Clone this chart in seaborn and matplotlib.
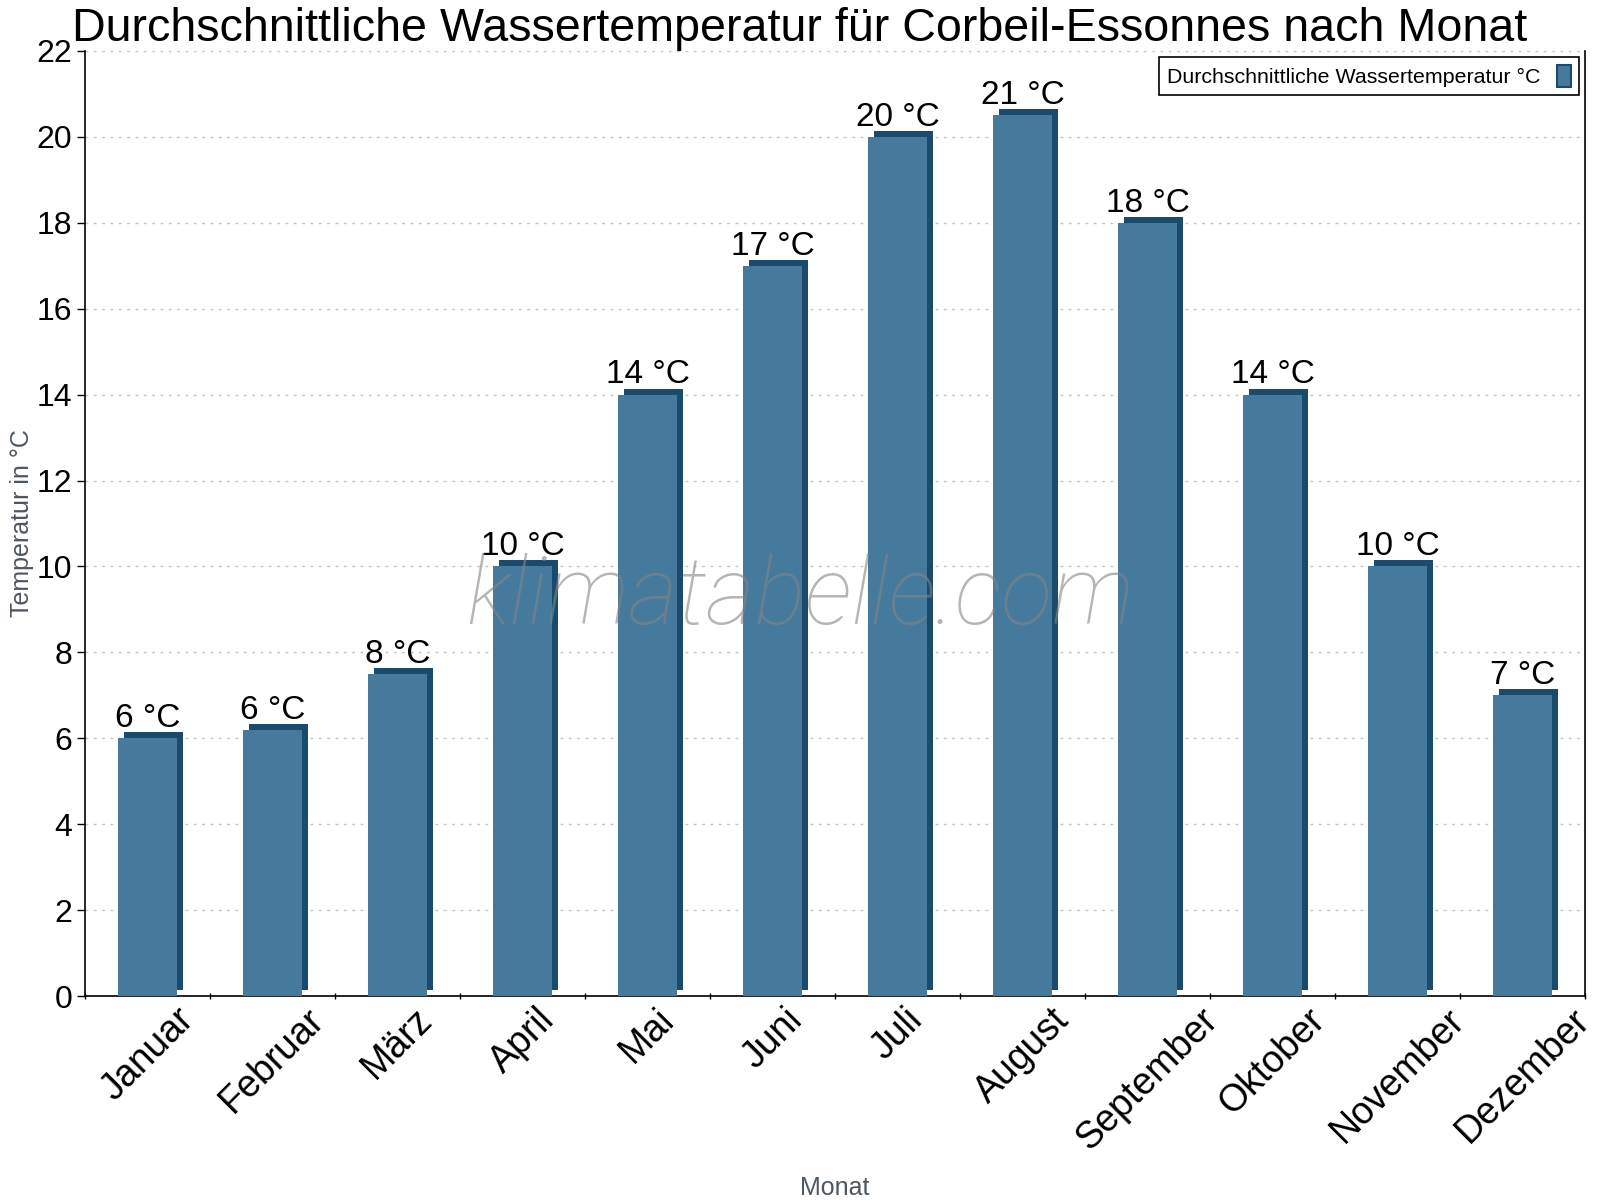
import matplotlib
matplotlib.use("Agg")
import matplotlib.pyplot as plt
import matplotlib.patheffects as pe
from matplotlib.patches import Patch
from matplotlib.ticker import MultipleLocator, FixedLocator
import pandas as pd
import seaborn as sns

# Data
months = ["Januar", "Februar", "März", "April", "Mai", "Juni", "Juli",
          "August", "September", "Oktober", "November", "Dezember"]
water_temp = [6.0, 6.2, 7.5, 10.0, 14.0, 17.0, 20.0, 20.5, 18.0, 14.0, 10.0, 7.0]
temp_labels = ["6 °C", "6 °C", "8 °C", "10 °C", "14 °C", "17 °C", "20 °C",
               "21 °C", "18 °C", "14 °C", "10 °C", "7 °C"]

title = "Durchschnittliche Wassertemperatur für Corbeil-Essonnes nach Monat"
series_name = "Durchschnittliche Wassertemperatur °C"

front_col = "#467a9c"
side_col = "#1a4b6c"
grey_text = "#4d5761"

sns.set_style("white")
plt.rcParams["font.family"] = ["Liberation Sans", "DejaVu Sans"]
plt.rcParams["text.color"] = "black"
plt.rcParams["xtick.color"] = "black"
plt.rcParams["ytick.color"] = "black"

df = pd.DataFrame({"Monat": months, "Temp": water_temp})

fig = plt.figure(figsize=(16, 12), dpi=100)
ax = fig.add_axes([85 / 1600, 1 - 996 / 1200, 1500 / 1600, 945 / 1200])

sns.barplot(data=df, x="Monat", y="Temp", color=front_col, saturation=1,
            width=0.47, ax=ax, zorder=3, edgecolor=front_col, linewidth=0)

# fake 3D depth with a solid shadow offset up-right
for p in ax.patches:
    p.set_path_effects([
        pe.SimplePatchShadow(offset=(4.3, 4.3), shadow_rgbFace=side_col, alpha=1),
        pe.Normal(),
    ])

ax.bar_label(ax.containers[0], labels=temp_labels, padding=3, fontsize=24,
             color="black", zorder=5)

ax.set_ylim(0, 22)
ax.set_xlim(-0.5, len(months) - 0.5)
ax.yaxis.set_major_locator(MultipleLocator(2))
ax.tick_params(axis="y", labelsize=23, length=6, width=1, color="black",
               labelcolor="black", direction="out", pad=3, left=True)
ax.tick_params(axis="x", which="major", length=0, labelsize=27, pad=4,
               labelcolor="black")
ax.xaxis.set_minor_locator(FixedLocator([i + 0.5 for i in range(-1, len(months))]))
ax.tick_params(axis="x", which="minor", length=5, width=1, direction="inout",
               color="black", bottom=True)
plt.setp(ax.get_xticklabels(), rotation=45)

ax.grid(axis="y", color="#c4c4c4", linestyle=(0, (2, 4)), linewidth=1, zorder=0)
ax.set_axisbelow(True)

for side in ["left", "bottom", "right"]:
    ax.spines[side].set_visible(True)
    ax.spines[side].set_color("black")
    ax.spines[side].set_linewidth(1.2)
ax.spines["top"].set_visible(False)

ax.set_ylabel("Temperatur in °C", fontsize=18, color=grey_text, labelpad=2)
ax.set_xlabel("Monat", fontsize=18, color=grey_text, labelpad=14)

handle = Patch(facecolor=front_col, edgecolor=side_col, linewidth=1.5)
leg = ax.legend([handle], [series_name], loc="upper right", markerfirst=False,
                fontsize=15.4, frameon=True, fancybox=False, framealpha=1,
                edgecolor="black", handlelength=0.65, handleheight=1.2,
                borderaxespad=0.3, borderpad=0.35, handletextpad=0.8)
leg.get_frame().set_linewidth(1.2)
leg.set_zorder(6)

fig.text(0.5, 1 - 41 / 1200, title, ha="center", va="baseline", fontsize=33.6)

# watermark
fig.text(0.5, 1 - 624 / 1200, "klimatabelle.com", ha="center", va="baseline",
         fontsize=68, color="#858585", alpha=0.6,
         family=["Roboto", "DejaVu Sans"], fontweight="light", style="italic",
         zorder=4)

fig.savefig("out.png", dpi=100)
